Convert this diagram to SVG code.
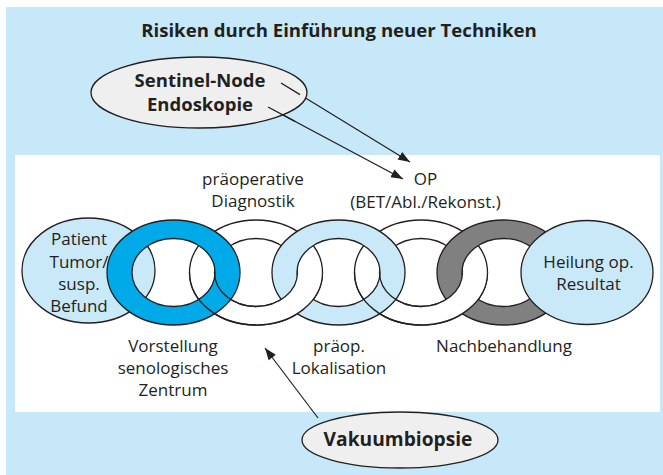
<svg xmlns="http://www.w3.org/2000/svg" width="663" height="475" viewBox="0 0 663 475">
<defs>
<style>
.t{font-family:"Open Sans","Liberation Sans",sans-serif;font-size:17px;fill:#231f20;text-anchor:middle}
.b{font-family:"Open Sans","Liberation Sans",sans-serif;font-weight:bold;fill:#231f20;text-anchor:middle}
.ln{stroke:#231f20;stroke-width:1.3;fill:none}
.lb{fill:#c9e9f8;stroke:#231f20;stroke-width:1.3}
.wr{fill:#ffffff;stroke:#231f20;stroke-width:1.3;fill-rule:evenodd}
.so{fill:none;stroke:#231f20;stroke-width:1.3}
.gy{fill:#efefef;stroke:#231f20;stroke-width:1.3}
.arr{stroke:#231f20;stroke-width:1.2;fill:none;marker-end:url(#ah)}
</style>
<marker id="ah" markerUnits="userSpaceOnUse" markerWidth="14" markerHeight="10" refX="12" refY="4.5" orient="auto">
<path d="M0,0 L12,4.5 L0,9 z" fill="#231f20"/>
</marker>
<path id="ringShape" d="M-66.5,0 a66.5,52.5 0 1,0 133,0 a66.5,52.5 0 1,0 -133,0 Z M-41.5,0 a41.5,34 0 1,0 83,0 a41.5,34 0 1,0 -83,0 Z"/>
<clipPath id="bl"><rect x="-80" y="0" width="80" height="60"/></clipPath>
<clipPath id="br"><rect x="0" y="0" width="80" height="60"/></clipPath>
</defs>
<rect x="6" y="7" width="657" height="468" fill="#c7e8f8"/>
<rect x="15" y="155" width="645" height="257" fill="#ffffff"/>
<text class="b" x="339" y="37" font-size="18.6">Risiken durch Einführung neuer Techniken</text>

<g id="connectors">
<line class="arr" x1="281" y1="83" x2="410" y2="162"/>
<line class="arr" x1="268" y1="107" x2="403" y2="179"/>
<line class="arr" x1="318" y1="418" x2="265" y2="348"/>
</g>

<g id="sentinel">
<ellipse class="gy" cx="199" cy="92.5" rx="108" ry="35.5"/>
<text class="b" x="200" y="87" font-size="18.5">Sentinel-Node</text>
<text class="b" x="200" y="111" font-size="18.5">Endoskopie</text>
</g>
<g id="connectors-over">
<line class="ln" x1="281" y1="83" x2="300" y2="94.6"/>
<line class="ln" x1="268" y1="107" x2="295" y2="121.4"/>
</g>

<g id="chain">
<g id="patient"><ellipse class="lb" cx="88.5" cy="270.5" rx="66.5" ry="52.5"/></g>
<g id="ring2"><use href="#ringShape" class="wr" transform="translate(256,272.5)"/></g>
<g id="ring4"><use href="#ringShape" class="wr" transform="translate(421,272.5)"/></g>
<g id="ring1"><use href="#ringShape" class="wr" style="fill:#00a9e8" transform="translate(173.5,272.5)"/></g>
<g id="ring3"><use href="#ringShape" class="wr" style="fill:#c9e9f8" transform="translate(338.5,272.5)"/></g>
<g id="ring5"><use href="#ringShape" class="wr" style="fill:#808080" transform="translate(503.5,272.5)"/></g>
<g transform="translate(256,272.5)">
<use href="#ringShape" class="so" clip-path="url(#bl)"/>
<use href="#ringShape" class="wr" clip-path="url(#br)"/>
</g>
<g transform="translate(421,272.5)">
<use href="#ringShape" class="so" clip-path="url(#bl)"/>
<use href="#ringShape" class="wr" clip-path="url(#br)"/>
</g>
<g id="heilung"><ellipse class="lb" cx="587" cy="272.5" rx="66" ry="52"/></g>
</g>

<g id="labels">
<text class="t" x="79" y="245">Patient</text>
<text class="t" x="79" y="268">Tumor/</text>
<text class="t" x="79" y="290">susp.</text>
<text class="t" x="79" y="312">Befund</text>
<text class="t" x="253" y="185">präoperative</text>
<text class="t" x="253" y="207">Diagnostik</text>
<text class="t" x="425.5" y="185">OP</text>
<text class="t" x="425.5" y="208">(BET/Abl./Rekonst.)</text>
<text class="t" x="588.5" y="268">Heilung op.</text>
<text class="t" x="588.5" y="290">Resultat</text>
<text class="t" x="173" y="352">Vorstellung</text>
<text class="t" x="173" y="374">senologisches</text>
<text class="t" x="173" y="396">Zentrum</text>
<text class="t" x="339" y="352">präop.</text>
<text class="t" x="339" y="374">Lokalisation</text>
<text class="t" x="504" y="352">Nachbehandlung</text>
</g>

<g id="vakuum">
<ellipse class="gy" cx="400" cy="440" rx="98" ry="28"/>
<text class="b" x="398" y="446" font-size="19.2">Vakuumbiopsie</text>
</g>
</svg>
